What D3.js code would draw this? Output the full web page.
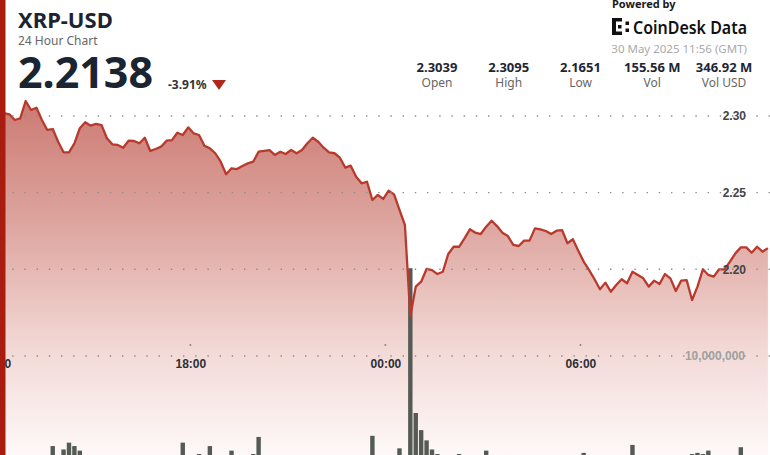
<!DOCTYPE html>
<html>
<head>
<meta charset="utf-8">
<title>XRP-USD 24 Hour Chart</title>
<script src="https://cdn.jsdelivr.net/npm/d3@7"></script>
<style>
body { margin: 0; background: #fff; }
svg { display: block; font-family: "Noto Sans", "Open Sans", sans-serif; }
.grid line { stroke: #8c8c8c; stroke-width: 1.4; stroke-dasharray: 1.4 10.8; }
.axis path { display: none; }
.y.axis text { font-size: 12px; font-weight: bold; fill: #444; }
.v.axis text { font-size: 12px; font-weight: bold; fill: #a0a0a0; }
.x.axis text { font-size: 12px; font-weight: bold; fill: #2b2f36; }
.stat-val { font-size: 13px; font-weight: bold; fill: #1e2633; text-anchor: middle; }
.stat-lbl { font-size: 12px; fill: #666; text-anchor: middle; }
</style>
</head>
<body>
<svg id="chart" width="770" height="455"></svg>
<script>
// 10 minute closes, 29 May 12:16 -> 30 May 11:46 (UTC)
var prices = [
  2.3018, 2.3011, 2.2974, 2.2985, 2.3098, 2.3039, 2.3054, 2.2974, 2.2909, 2.2915,
  2.2832, 2.2763, 2.2763, 2.2822, 2.2920, 2.2959, 2.2937, 2.2948, 2.2941, 2.2855,
  2.2815, 2.2811, 2.2793, 2.2839, 2.2837, 2.2822, 2.2858, 2.2772, 2.2785, 2.2800,
  2.2839, 2.2843, 2.2891, 2.2876, 2.2926, 2.2887, 2.2876, 2.2806, 2.2789, 2.2757,
  2.2702, 2.2620, 2.2659, 2.2654, 2.2674, 2.2691, 2.2702, 2.2767, 2.2772, 2.2778,
  2.2746, 2.2767, 2.2752, 2.2778, 2.2757, 2.2778, 2.2822, 2.2858, 2.2832, 2.2793,
  2.2763, 2.2757, 2.2728, 2.2663, 2.2676, 2.2604, 2.2561, 2.2571, 2.2452, 2.2485,
  2.2459, 2.2513, 2.2489, 2.2387, 2.2289, 2.1691, 2.1887, 2.1919, 2.2002, 2.1995,
  2.1969, 2.1984, 2.2100, 2.2147, 2.2147, 2.2202, 2.2261, 2.2239, 2.2230, 2.2278,
  2.2317, 2.2282, 2.2239, 2.2217, 2.2159, 2.2152, 2.2187, 2.2187, 2.2267, 2.2261,
  2.2250, 2.2230, 2.2252, 2.2256, 2.2170, 2.2196, 2.2121, 2.2050, 2.1995, 2.1935,
  2.1870, 2.1913, 2.1854, 2.1898, 2.1935, 2.1909, 2.1984, 2.1963, 2.1941, 2.1887,
  2.1926, 2.1904, 2.1969, 2.1941, 2.1858, 2.1926, 2.1930, 2.1800, 2.1887, 2.2000,
  2.1963, 2.1952, 2.2000, 2.2000, 2.2050, 2.2104, 2.2143, 2.2143, 2.2108, 2.2147,
  2.2115, 2.2138
];

// visible volume bars: slot index (same 10 min grid) and volume in millions
var volSlots = [9, 11, 12, 13, 14, 33, 36, 38, 42, 46, 47, 68, 73, 75, 76, 77, 78, 79, 80, 84, 89, 107, 116, 127, 128, 129, 130, 136];
var volumes  = [2.1, 1.8, 2.4, 2.1, 1.7, 2.4, 1.4, 2.1, 1.7, 1.4, 2.9, 3.0, 1.9, 17.7, 5.0, 3.5, 2.6, 1.8, 1.4, 1.4, 1.7, 1.5, 2.2, 1.4, 1.5, 1.4, 1.7, 2.0];

var priceTicks = [2.20, 2.25, 2.30];
var volTicks = [10];

var statValues = ["2.3039", "2.3095", "2.1651", "155.56 M", "346.92 M"];
var statLabels = ["Open", "High", "Low", "Vol", "Vol USD"];

var start = Date.UTC(2025, 4, 29, 12, 16);
var step = 10 * 60 * 1000;
var domainStart = new Date(Date.UTC(2025, 4, 29, 12, 0));
var domainEnd = new Date(Date.UTC(2025, 4, 30, 12, 0));

var data = prices.map(function(p, i) { return { t: new Date(start + i * step), p: p }; });
var bars = volSlots.map(function(s, i) { return { t: new Date(start + s * step), v: volumes[i] }; });

var W = 770, H = 455;
var svg = d3.select("#chart");

var x = d3.scaleUtc().domain([domainStart, domainEnd]).range([-4.7, 775.5]);
var y = d3.scaleLinear().domain([2.20, 2.30]).range([269.3, 116]);
var v = d3.scaleLinear().domain([0, 10]).range([470, 356]);

// gradient for the price area
var grad = svg.append("defs").append("linearGradient")
    .attr("id", "fillGrad")
    .attr("gradientUnits", "userSpaceOnUse")
    .attr("x1", 0).attr("y1", 100).attr("x2", 0).attr("y2", 460);
grad.append("stop").attr("offset", 0).attr("stop-color", "#cb7a72");
grad.append("stop").attr("offset", 0.35).attr("stop-color", "#dea6a0");
grad.append("stop").attr("offset", 0.7).attr("stop-color", "#f3dad7");
grad.append("stop").attr("offset", 1).attr("stop-color", "#fefafa");

var area = d3.area()
    .x(function(d) { return x(d.t); })
    .y0(H)
    .y1(function(d) { return y(d.p); });

var line = d3.line()
    .x(function(d) { return x(d.t); })
    .y(function(d) { return y(d.p); });

svg.append("path")
    .datum(data)
    .attr("d", area)
    .attr("fill", "url(#fillGrad)");

// volume bars
svg.selectAll("rect.vol")
    .data(bars)
  .enter().append("rect")
    .attr("class", "vol")
    .attr("x", function(d) { return x(d.t) - 2.2; })
    .attr("width", 4.4)
    .attr("y", function(d) { return v(d.v); })
    .attr("height", function(d) { return v(0) - v(d.v); })
    .attr("fill", "#555a55");

svg.append("path")
    .datum(data)
    .attr("d", line)
    .attr("fill", "none")
    .attr("stroke", "#b83a2c")
    .attr("stroke-width", 2.3)
    .attr("stroke-linejoin", "round");

// dotted gridlines
var grid = svg.append("g").attr("class", "grid");
grid.selectAll("line.p")
    .data(priceTicks)
  .enter().append("line")
    .attr("x1", 0).attr("x2", W)
    .attr("y1", function(d) { return y(d); })
    .attr("y2", function(d) { return y(d); });
grid.selectAll("line.v")
    .data(volTicks)
  .enter().append("line")
    .attr("x1", 0).attr("x2", W)
    .attr("y1", function(d) { return v(d); })
    .attr("y2", function(d) { return v(d); });

svg.append("g")
    .attr("class", "y axis")
    .attr("transform", "translate(746,0)")
    .call(d3.axisLeft(y).tickValues(priceTicks).tickSize(0).tickPadding(0)
      .tickFormat(d3.format(".2f")));

svg.append("g")
    .attr("class", "v axis")
    .attr("transform", "translate(745,0)")
    .call(d3.axisLeft(v).tickValues(volTicks).tickSize(0).tickPadding(0)
      .tickFormat(function(d) { return d3.format(",")(d * 1e6); }));

var timeTicks = x.ticks(d3.utcHour.every(6)).filter(function(t) { return t < domainEnd; });

svg.append("g")
    .attr("class", "x axis")
    .attr("transform", "translate(0,356)")
    .call(d3.axisBottom(x).tickValues(timeTicks).tickSize(0).tickPadding(3.5)
      .tickFormat(d3.utcFormat("%H:%M")));

svg.selectAll("circle.tick")
    .data(timeTicks)
  .enter().append("circle")
    .attr("cx", function(d) { return x(d); })
    .attr("cy", 345)
    .attr("r", 1)
    .attr("fill", "#888");

// left accent bar
svg.append("rect")
    .attr("x", 0).attr("y", 0)
    .attr("width", 5.5).attr("height", H)
    .attr("fill", "#a91d11");

// header, left
svg.append("text")
    .attr("x", 18).attr("y", 28)
    .attr("font-size", 22).attr("font-weight", "bold").attr("fill", "#1b2431")
    .text("XRP-USD");
svg.append("text")
    .attr("x", 18).attr("y", 45)
    .attr("font-size", 12).attr("fill", "#666")
    .text("24 Hour Chart");
svg.append("text")
    .attr("x", 18).attr("y", 88)
    .attr("font-size", 43).attr("font-weight", "bold").attr("fill", "#1b2431")
    .text("2.2138");
svg.append("text")
    .attr("x", 168).attr("y", 89)
    .attr("font-size", 12).attr("font-weight", "bold").attr("fill", "#333")
    .text("-3.91%");
svg.append("path")
    .attr("d", "M212,80 L226,80 L219,90 Z")
    .attr("fill", "#b0271b");

// header, right
svg.append("text")
    .attr("x", 612).attr("y", 8)
    .attr("font-size", 11).attr("font-weight", "bold").attr("fill", "#1a1a1a")
    .text("Powered by");

var logo = svg.append("g").attr("fill", "#111");
logo.append("rect").attr("x", 612).attr("y", 18).attr("width", 4).attr("height", 17);
logo.append("rect").attr("x", 612).attr("y", 18).attr("width", 10).attr("height", 3.5);
logo.append("rect").attr("x", 612).attr("y", 31.5).attr("width", 10).attr("height", 3.5);
logo.append("rect").attr("x", 618).attr("y", 25).attr("width", 3.5).attr("height", 3.5);
logo.append("rect").attr("x", 625.5).attr("y", 21.5).attr("width", 3.5).attr("height", 3.5);
logo.append("rect").attr("x", 625.5).attr("y", 28.5).attr("width", 3.5).attr("height", 3.5);

svg.append("text")
    .attr("x", 633).attr("y", 34)
    .attr("font-size", 18.5).attr("font-weight", 600).attr("fill", "#111")
    .attr("textLength", 114).attr("lengthAdjust", "spacingAndGlyphs")
    .text("CoinDesk Data");
svg.append("text")
    .attr("x", 747).attr("y", 53)
    .attr("text-anchor", "end")
    .attr("font-size", 11.5).attr("fill", "#aaa")
    .text("30 May 2025 11:56 (GMT)");

var statX = d3.scalePoint().domain(statLabels).range([437, 724]);
var stats = svg.selectAll("g.stat")
    .data(statLabels)
  .enter().append("g")
    .attr("class", "stat")
    .attr("transform", function(d) { return "translate(" + statX(d) + ",0)"; });
stats.append("text")
    .attr("class", "stat-val")
    .attr("y", 72)
    .text(function(d, i) { return statValues[i]; });
stats.append("text")
    .attr("class", "stat-lbl")
    .attr("y", 87)
    .text(function(d) { return d; });
</script>
</body>
</html>
